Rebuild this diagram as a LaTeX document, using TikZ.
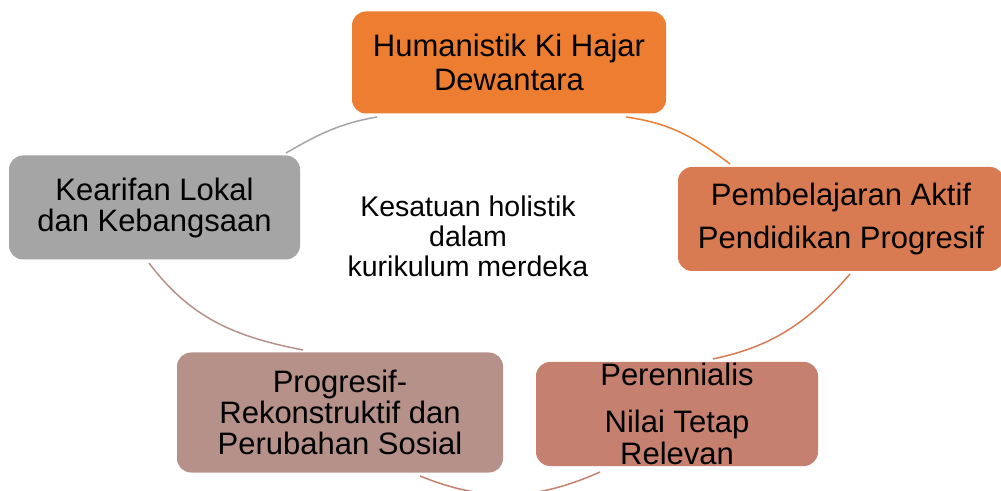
\documentclass[tikz,border=0pt]{standalone}
\usepackage{fontspec}
\setmainfont{Liberation Sans}
\usepackage{xcolor}
\usetikzlibrary{positioning}
\definecolor{hum}{HTML}{ED7D31}
\definecolor{akt}{HTML}{D97B52}
\definecolor{per}{HTML}{C5806F}
\definecolor{rek}{HTML}{B5918A}
\definecolor{kea}{HTML}{A5A5A5}

\begin{document}
\begin{tikzpicture}[x=1pt,y=1pt,
  box/.style={rounded corners=14pt, inner sep=0pt, align=center, font=\fontsize{31}{34}\selectfont},
  ring/.style={line width=1.5pt}]
\clip (0,0) rectangle (1001,490);
\node[box, fill=hum, minimum width=314, minimum height=102] (hum) at (509,427.5) {Humanistik Ki Hajar\\Dewantara};
\node[box, fill=akt, minimum width=326, minimum height=104] (akt) at (841,271) {Pembelajaran Aktif\\[9pt]Pendidikan Progresif};
\node[box, fill=per, minimum width=282, minimum height=104] (per) at (677,76) {Perennialis\\[13pt]Nilai Tetap\\[-2pt]Relevan};
\node[box, fill=rek, minimum width=326, minimum height=120] (rek) at (340,77.5) {Progresif-\\[-3pt]Rekonstruktif dan\\[-3pt]Perubahan Sosial};
\node[box, fill=kea, minimum width=291, minimum height=104] (kea) at (154.5,282.5) {Kearifan Lokal\\[-3pt]dan Kebangsaan};
\node[align=center, font=\fontsize{28.5}{30}\selectfont] (mid) at (468,254) {Kesatuan holistik\\dalam\\kurikulum merdeka};

\coordinate (k1) at (286,337);
\coordinate (k2) at (377,373);
\coordinate (h1) at (626,373);
\coordinate (h2) at (730,326);
\coordinate (a1) at (850,216);
\coordinate (a2) at (713,131);
\coordinate (p1) at (600,18);
\coordinate (p2) at (420,14);
\coordinate (r1) at (303,140);
\coordinate (r2) at (149,227);

\draw[ring, kea] (k1) to[out=30,in=190] (k2);
\draw[ring, hum] (h1) to[out=-8,in=143] (h2);
\draw[ring, akt] (a1) to[out=-131,in=12] (a2);
\draw[ring, per] (p1) to[out=204,in=-22] (p2);
\draw[ring, rek] (r1) to[out=169,in=-53] (r2);
\end{tikzpicture}
\end{document}
